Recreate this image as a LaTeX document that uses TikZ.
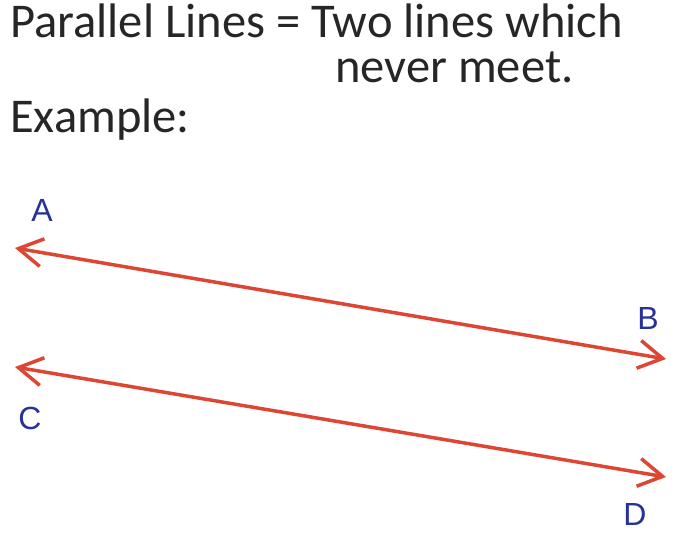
\documentclass[tikz,border=0pt]{standalone}
\usepackage{fontspec}
\setmainfont{Carlito}
\newfontfamily\labelfont{Liberation Sans}
\usetikzlibrary{arrows.meta}
\definecolor{linered}{RGB}{220,70,50}
\definecolor{labelblue}{RGB}{40,50,150}

\begin{document}
\begin{tikzpicture}[x=1pt,y=-1pt,>={Straight Barb[length=24pt,width=28pt,line width=3.5pt]},
                    semithick]
  \tikzstyle{heading} = [anchor=base west, inner sep=0pt, text=black!85,
    font=\fontsize{48.5}{58}\selectfont]
  \tikzstyle{point} = [text=labelblue, inner sep=0pt,
    font=\labelfont\fontsize{32}{38}\selectfont]
  \tikzstyle{parallel} = [draw=linered, line width=3.5pt, <->]

  \useasboundingbox (0,0) rectangle (680,555);

  \node[heading] (Title) at (10,37) {Parallel Lines = Two lines which};
  \node[heading] (Rest) at (335,82) {never meet.};
  \node[heading] (Example) at (10,132) {Example:};

  \coordinate (a) at (15,248);
  \coordinate (b) at (666,359);
  \coordinate (c) at (15,367);
  \coordinate (d) at (666,477);

  \node[point] (A) at (42,210) {A};
  \node[point] (B) at (648,318) {B};
  \node[point] (C) at (30,418) {C};
  \node[point] (D) at (635,514) {D};

  \draw[parallel] (a) -- (b);
  \draw[parallel] (c) -- (d);
\end{tikzpicture}
\end{document}
